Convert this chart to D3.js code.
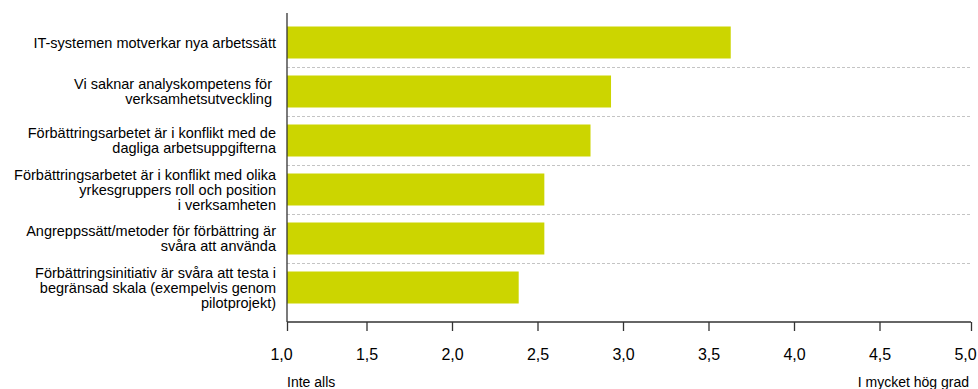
<!DOCTYPE html>
<html lang="sv">
<head>
  <meta charset="UTF-8">
  <title>Hinder för förbättringsarbete</title>
  <script src="https://d3js.org/d3.v7.min.js"></script>
  <style>
    body {
      margin: 0;
      background: #ffffff;
    }
    svg text {
      font-family: "Liberation Sans", Arial, sans-serif;
      fill: #000000;
    }
    .bar {
      fill: #ccd500;
    }
    .separator {
      stroke: #c4c4c4;
      stroke-width: 1;
      stroke-dasharray: 3,2;
    }
    .x-axis path, .x-axis line, .y-line {
      stroke: #333333;
      stroke-width: 1.3;
    }
  </style>
</head>
<body>
<script>
// kategorier (radbrytningar som i originalet)
var categories = [
  ["IT-systemen motverkar nya arbetssätt"],
  ["Vi saknar analyskompetens för ", "verksamhetsutveckling "],
  ["Förbättringsarbetet är i konflikt med de", "dagliga arbetsuppgifterna"],
  ["Förbättringsarbetet är i konflikt med olika", "yrkesgruppers roll och position", "i verksamheten"],
  ["Angreppssätt/metoder för förbättring är", "svåra att använda"],
  ["Förbättringsinitiativ är svåra att testa i", "begränsad skala (exempelvis genom", "pilotprojekt)"]
];
// medelvärden, skala 1-5
var values = [3.63, 2.93, 2.81, 2.54, 2.54, 2.39];
var tickValues = [1.0, 1.5, 2.0, 2.5, 3.0, 3.5, 4.0, 4.5, 5.0];
var scaleLabels = ["Inte alls", "I mycket hög grad"];

var width = 978;
var height = 389;

var svg = d3.select("body")
  .append("svg")
  .attr("width", width)
  .attr("height", height);

var xScale = d3.scaleLinear()
  .domain([1, 5])
  .range([281, 965]);

// axellinjen är förskjuten några pixlar mot etiketterna, som i originalet
var shift = 6;
var axisLeft = xScale(1) + shift;
var axisRight = xScale(5) + shift;

var yScale = d3.scaleBand()
  .domain(d3.range(categories.length))
  .range([18, 312])
  .paddingInner(0.347)
  .paddingOuter(0.1735);

var axisY = 322;

// streckade linjer mellan kategorierna
var step = yScale.step();
svg.selectAll(".separator")
  .data(d3.range(1, categories.length))
  .enter()
  .append("line")
  .attr("class", "separator")
  .attr("x1", axisLeft)
  .attr("x2", axisRight + 1)
  .attr("y1", function(i) { return 18 + i * step + 0.5; })
  .attr("y2", function(i) { return 18 + i * step + 0.5; });

// staplar
svg.selectAll(".bar")
  .data(values)
  .enter()
  .append("rect")
  .attr("class", "bar")
  .attr("x", axisLeft)
  .attr("y", function(d, i) { return yScale(i); })
  .attr("width", function(d) { return xScale(d) - axisLeft; })
  .attr("height", yScale.bandwidth());

// x-axel
var xAxis = d3.axisBottom(xScale)
  .tickValues(tickValues)
  .tickSize(9)
  .tickSizeOuter(0)
  .tickPadding(18)
  .tickFormat(function(d) { return d.toFixed(1).replace(".", ","); });

var gx = svg.append("g")
  .attr("class", "x-axis")
  .attr("transform", "translate(0," + axisY + ")")
  .call(xAxis);
gx.select(".domain")
  .attr("d", "M" + axisLeft + ",0H" + axisRight);
gx.selectAll(".tick line")
  .filter(function(d) { return d === 1 || d === 5; })
  .attr("x1", shift)
  .attr("x2", shift);
gx.selectAll("text")
  .style("font-size", "16px")
  .style("fill", "#000");

// y-axel (linje)
svg.append("line")
  .attr("class", "y-line")
  .attr("x1", axisLeft)
  .attr("x2", axisLeft)
  .attr("y1", 13)
  .attr("y2", axisY);

// kategorietiketter
var lineH = 15;
var labels = svg.selectAll(".cat-label")
  .data(categories)
  .enter()
  .append("text")
  .attr("class", "cat-label")
  .attr("text-anchor", "end")
  .style("font-size", "14.5px")
  .attr("transform", function(d, i) {
    var cy = yScale(i) + yScale.bandwidth() / 2;
    var top = cy - (d.length - 1) * lineH / 2;
    return "translate(276," + top + ")";
  });

labels.selectAll("tspan")
  .data(function(d) { return d; })
  .enter()
  .append("tspan")
  .attr("x", 0)
  .attr("y", function(d, j) { return j * lineH; })
  .attr("dy", "0.35em")
  .style("white-space", "pre")
  .text(function(d) { return d; });

// skaletiketter
svg.append("text")
  .attr("x", axisLeft)
  .attr("y", 387)
  .style("font-size", "14px")
  .text(scaleLabels[0]);

svg.append("text")
  .attr("x", axisRight - 2)
  .attr("y", 387)
  .attr("text-anchor", "end")
  .style("font-size", "14px")
  .text(scaleLabels[1]);
</script>
</body>
</html>
